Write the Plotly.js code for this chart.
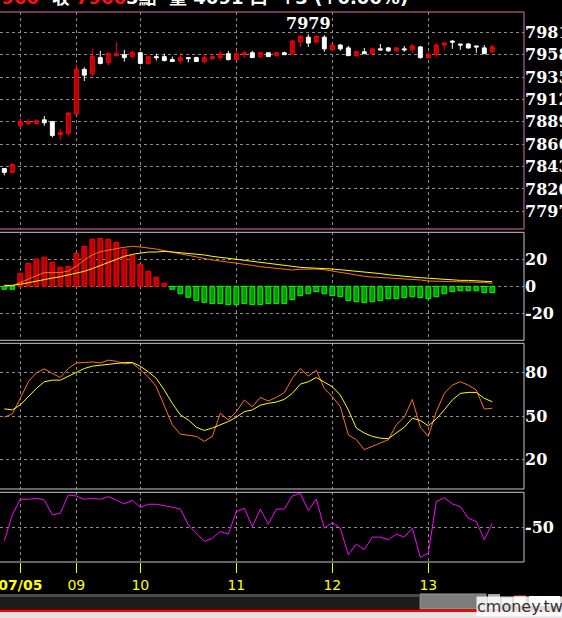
<!DOCTYPE html>
<html>
<head>
<meta charset="utf-8">
<script src="https://cdn.plot.ly/plotly-3.0.1.min.js"></script>
<style>
html,body{margin:0;padding:0;background:#000;overflow:hidden;}
#chart{width:562px;height:618px;}
</style>
</head>
<body>
<div id="chart"></div>
<script>
// ---- Data ----
const tickPos = [2, 9, 17, 29, 41, 53];
const tickLabels = ['<b>07/05</b>', '09', '10', '11', '12', '13'];

const priceTicks = [7797, 7820, 7843, 7866, 7889, 7912, 7935, 7958, 7981];

const open = [7841,7837,7885,7887,7887,7891,7889,7876,7877,7897,
  7943,7938,7955,7950,7957,7958,7956,7960,7949,7956,
  7956,7953,7952,7955,7955,7951,7954,7955,7959,7953,
  7958,7960,7956,7960,7957,7960,7959,7971,7976,7971,
  7976,7963,7968,7965,7957,7961,7959,7964,7965,7962,
  7964,7963,7966,7955,7958,7968,7972,7969,7969,7967,
  7965,7961];
const high = [7841,7846,7893,7892,7892,7895,7890,7882,7899,7948,
  7945,7964,7962,7960,7971,7963,7962,7961,7957,7959,
  7959,7956,7960,7955,7956,7959,7957,7962,7962,7962,
  7962,7962,7961,7960,7961,7961,7973,7978,7979,7977,
  7978,7969,7969,7967,7962,7965,7964,7969,7966,7966,
  7967,7969,7967,7961,7970,7971,7973,7969,7970,7967,
  7968,7968];
const low = [7834,7836,7882,7886,7887,7885,7873,7870,7875,7897,
  7931,7936,7948,7947,7956,7951,7955,7948,7948,7952,
  7951,7951,7949,7950,7951,7949,7953,7952,7952,7952,
  7955,7955,7955,7956,7956,7958,7958,7966,7966,7970,
  7961,7962,7962,7957,7956,7959,7959,7962,7961,7961,
  7961,7960,7954,7954,7956,7963,7964,7963,7964,7960,
  7959,7960];
const close = [7837,7845,7889,7889,7890,7888,7875,7878,7898,7943,
  7937,7956,7949,7959,7959,7955,7960,7949,7956,7955,
  7952,7951,7955,7954,7951,7955,7956,7959,7953,7959,
  7960,7955,7960,7956,7960,7958,7972,7977,7970,7977,
  7964,7968,7964,7957,7961,7959,7964,7963,7962,7965,
  7963,7967,7955,7958,7968,7970,7971,7968,7965,7966,
  7959,7966];

const highMark = {index: 38, value: 7979};

const macdHist = [-2.2,-2.2,9.6,17.0,20.2,21.5,17.8,14.1,14.8,24.4,
  29.6,34.8,35.6,34.8,32.6,27.4,23.0,16.3,11.1,6.7,
  2.2,-2.2,-5.5,-8.1,-10.6,-11.9,-12.8,-12.8,-13.6,-13.6,
  -12.8,-13.6,-13.6,-12.8,-12.8,-12.8,-9.9,-6.9,-5.5,-4.0,
  -5.5,-6.9,-7.7,-10.6,-11.4,-12.1,-11.4,-10.6,-9.2,-9.2,
  -8.4,-7.7,-8.4,-9.2,-7.7,-5.5,-4.0,-3.3,-3.3,-3.3,
  -4.7,-4.7];
const macdSignal = [0.7,0.7,1.5,2.7,4.2,5.4,6.1,7.1,8.4,9.4,
  11.1,13.1,15.3,17.7,20.2,22.2,23.7,24.7,25.4,25.4,
  25.9,25.4,24.9,24.4,24.2,23.2,22.2,21.5,20.7,20.0,
  19.5,18.7,18.0,17.3,16.5,15.5,14.8,14.0,13.8,13.5,
  13.3,12.8,12.3,11.8,11.1,10.6,9.8,9.4,8.6,7.9,
  7.4,6.9,6.4,5.9,5.4,5.2,4.7,4.4,4.4,4.2,
  3.7,3.4];
const macdDif = [0.5,0.5,2.7,5.4,7.9,10.1,10.1,10.1,11.3,14.8,
  19.5,23.2,25.6,26.9,27.9,28.9,29.6,29.1,28.4,27.6,
  26.4,25.2,23.9,22.9,21.5,20.5,19.5,18.7,18.0,17.3,
  16.5,15.5,14.5,13.8,13.1,12.3,12.1,12.6,12.8,12.8,
  12.3,11.3,10.1,9.1,8.1,7.4,6.9,6.6,6.1,5.6,
  5.4,5.2,4.7,3.9,3.7,3.7,3.4,3.4,3.4,3.2,
  2.9,2.2];

const kLine = [49.3,51.5,62.2,73.6,79.7,82.5,79.3,76.5,82.7,86.5,
  86.8,87.2,86.5,88.4,87.7,85.9,86.5,82.0,77.0,70.2,
  57.7,44.0,37.7,36.8,36.1,32.7,36.1,52.0,47.4,53.1,
  61.1,56.5,62.9,60.4,62.9,66.1,75.9,82.7,77.5,81.5,
  69.0,63.4,56.5,37.2,33.8,27.0,29.3,31.5,33.8,44.0,
  49.3,61.5,42.4,36.1,53.1,65.6,71.3,73.6,71.3,67.9,
  54.9,55.4];
const dLine = [55.0,54.3,57.7,63.4,69.0,73.6,74.7,74.7,77.5,80.4,
  82.7,84.3,85.0,85.6,86.5,86.8,86.8,84.3,80.4,75.9,
  67.9,58.8,50.9,47.4,42.4,40.2,41.8,44.0,46.3,49.3,
  53.1,54.3,57.5,58.8,59.7,61.5,65.6,72.0,73.6,76.5,
  73.6,70.2,64.5,54.3,41.8,38.4,36.1,34.9,34.5,38.4,
  42.4,48.6,47.0,43.4,48.1,54.3,61.1,65.6,66.3,66.3,
  62.2,59.9];

const willR = [-69.6,-32.4,-10.0,-10.0,-8.6,-11.0,-32.4,-30.0,-3.9,-5.3,
  -10.0,-8.6,-10.0,-6.2,-11.0,-16.7,-11.5,-21.5,-17.2,-17.2,
  -19.1,-21.5,-23.9,-46.7,-58.6,-70.5,-65.8,-56.2,-60.0,-27.7,
  -22.9,-49.1,-24.3,-45.8,-24.3,-23.9,-5.3,-1.5,-26.2,-9.6,
  -51.5,-43.4,-51.5,-89.6,-74.3,-82.4,-64.3,-64.3,-68.1,-60.0,
  -64.3,-51.5,-93.4,-87.2,-13.4,-7.7,-16.7,-20.5,-37.2,-41.9,
  -68.1,-44.3];

// ---- Chart ----
const idx = open.map((_, i) => i);
const gridColor = '#8c8c8c';
const labelFont = {family: 'DejaVu Serif', size: 16, color: '#ffffff', weight: 700};

const traces = [
  {
    type: 'candlestick', x: idx, open: open, high: high, low: low, close: close,
    xaxis: 'x', yaxis: 'y', whiskerwidth: 0,
    increasing: {line: {color: '#ff0000', width: 1}, fillcolor: '#b40000'},
    decreasing: {line: {color: '#ffffff', width: 1}, fillcolor: '#ffffff'},
    hoverinfo: 'skip'
  },
  {
    type: 'bar', x: idx, y: macdHist, xaxis: 'x', yaxis: 'y2', width: 0.6,
    marker: {
      color: macdHist.map(v => v >= 0 ? '#c00000' : '#00a000'),
      line: {color: macdHist.map(v => v >= 0 ? '#ff0000' : '#00ff00'), width: 1}
    },
    hoverinfo: 'skip'
  },
  {type: 'scatter', mode: 'lines', x: idx, y: macdDif, xaxis: 'x', yaxis: 'y2',
   line: {color: '#ff7020', width: 1}, hoverinfo: 'skip'},
  {type: 'scatter', mode: 'lines', x: idx, y: macdSignal, xaxis: 'x', yaxis: 'y2',
   line: {color: '#ffff00', width: 1}, hoverinfo: 'skip'},
  {type: 'scatter', mode: 'lines', x: idx, y: kLine, xaxis: 'x', yaxis: 'y3',
   line: {color: '#ff7020', width: 1}, hoverinfo: 'skip'},
  {type: 'scatter', mode: 'lines', x: idx, y: dLine, xaxis: 'x', yaxis: 'y3',
   line: {color: '#ffff00', width: 1}, hoverinfo: 'skip'},
  {type: 'scatter', mode: 'lines', x: idx, y: willR, xaxis: 'x', yaxis: 'y4',
   line: {color: '#ff00ff', width: 1}, hoverinfo: 'skip'}
];

function yAx(domain, range, vals, texts) {
  return {
    domain: domain, range: range, side: 'right', anchor: 'x',
    tickmode: 'array', tickvals: vals, ticktext: texts || vals.map(String),
    showgrid: true, gridcolor: gridColor, griddash: 'dot', gridwidth: 1,
    zeroline: false, showline: false, ticks: '', tickfont: labelFont,
    ticklabeloverflow: 'allow', fixedrange: true
  };
}

const P = v => (562 - v) / 550;   // pixel row -> paper y
const X = v => v / 524;           // pixel col -> paper x

const layout = {
  width: 562, height: 618, autosize: false,
  margin: {l: 0, r: 38, t: 12, b: 56, pad: 0},
  paper_bgcolor: '#000000', plot_bgcolor: '#000000',
  showlegend: false,
  xaxis: {
    domain: [0, 1], range: [-0.54, 64.96], anchor: 'y4',
    tickmode: 'array', tickvals: tickPos, ticktext: tickLabels,
    showgrid: true, gridcolor: gridColor, griddash: 'dot', gridwidth: 1,
    zeroline: false, showline: false,
    ticks: 'outside', ticklen: 10, tickwidth: 1, tickcolor: '#ffff00',
    tickfont: {family: 'DejaVu Sans', size: 14, color: '#ffff00'},
    ticklabeloverflow: 'allow',
    rangeslider: {visible: false}, fixedrange: true
  },
  yaxis: yAx([P(229), 1], [7778.8, 8001.9], priceTicks),
  yaxis2: yAx([P(340.3), P(232.3)], [-40, 40], [-20, 0, 20]),
  yaxis3: yAx([P(489), P(343.3)], [0, 100], [20, 50, 80]),
  yaxis4: yAx([0, P(492.3)], [-100, 0], [-50]),
  shapes: [
    {type: 'rect', xref: 'paper', yref: 'paper', x0: -0.02, x1: 1, y0: P(229), y1: 1,
     line: {color: '#e070b0', width: 1}},
    {type: 'rect', xref: 'paper', yref: 'paper', x0: -0.02, x1: 1, y0: P(340.3), y1: P(232.3),
     line: {color: '#c8c8c8', width: 1}},
    {type: 'rect', xref: 'paper', yref: 'paper', x0: -0.02, x1: 1, y0: P(489), y1: P(343.3),
     line: {color: '#c8c8c8', width: 1}},
    {type: 'rect', xref: 'paper', yref: 'paper', x0: -0.02, x1: 1, y0: 0, y1: P(492.3),
     line: {color: '#c8c8c8', width: 1}},
    // scroll bar track
    {type: 'rect', xref: 'paper', yref: 'paper', x0: X(0), x1: X(419), y0: P(609), y1: P(594),
     fillcolor: '#1c1c1c', line: {width: 0}},
    {type: 'rect', xref: 'paper', yref: 'paper', x0: X(0), x1: X(419), y0: P(597), y1: P(594),
     fillcolor: '#4a4a4a', line: {width: 0}},
    // scroll thumb
    {type: 'rect', xref: 'paper', yref: 'paper', x0: X(420), x1: X(486), y0: P(609), y1: P(594),
     fillcolor: '#7c7c7c', line: {color: '#9a9a9a', width: 1}},
    {type: 'rect', xref: 'paper', yref: 'paper', x0: X(488), x1: X(500), y0: P(609), y1: P(594),
     fillcolor: '#a8a8a8', line: {width: 0}},
    // icons
    {type: 'rect', xref: 'paper', yref: 'paper', x0: X(502), x1: X(512), y0: P(604), y1: P(598),
     fillcolor: '#f0c040', line: {color: '#4080ff', width: 1}},
    {type: 'rect', xref: 'paper', yref: 'paper', x0: X(514), x1: X(526), y0: P(606), y1: P(596),
     fillcolor: '#f4f4f4', line: {color: '#e04040', width: 1}},
    {type: 'rect', xref: 'paper', yref: 'paper', x0: X(529), x1: X(560), y0: P(606), y1: P(596),
     fillcolor: '#ffffff', line: {width: 0}},
    // red line and bottom strip
    {type: 'rect', xref: 'paper', yref: 'paper', x0: X(-2), x1: X(564), y0: P(612), y1: P(609.5),
     fillcolor: '#ff0000', line: {width: 0}},
    {type: 'rect', xref: 'paper', yref: 'paper', x0: X(-2), x1: X(564), y0: P(620), y1: P(612),
     fillcolor: '#e4e4e4', line: {width: 0}}
  ],
  annotations: [
    {x: highMark.index, y: highMark.value, xref: 'x', yref: 'y', text: String(highMark.value),
     showarrow: false, yanchor: 'bottom', xanchor: 'center', yshift: -1,
     font: {family: 'DejaVu Serif', size: 16, color: '#ffffff', weight: 700}},
    {x: X(-13), y: P(10), xref: 'paper', yref: 'paper', xanchor: 'left', yanchor: 'bottom',
     showarrow: false,
     text: '<span style="color:#ff1010">7960</span>  收 <span style="color:#ff1010">7966</span>5點  量 4091 口  +3 (+0.06%)',
     font: {family: 'DejaVu Sans, Noto Sans CJK TC', size: 18, color: '#ffffff', weight: 700}},
    {x: X(520), y: P(606), xref: 'paper', yref: 'paper', xanchor: 'center', yanchor: 'middle',
     showarrow: false, text: 'cmoney.tw', bgcolor: 'rgba(255,255,255,0.85)', borderpad: 0,
     font: {family: 'DejaVu Sans', size: 16, color: '#333333'}}
  ]
};

Plotly.newPlot('chart', traces, layout, {staticPlot: true, displayModeBar: false});
</script>
</body>
</html>
